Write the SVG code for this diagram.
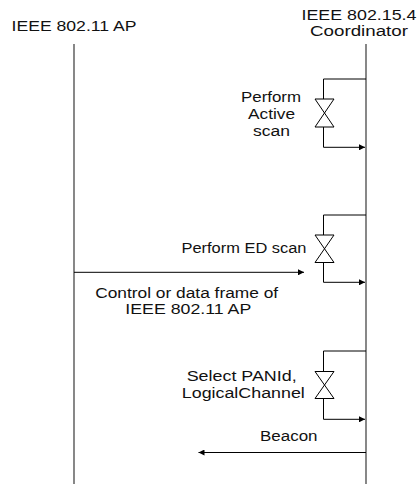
<svg xmlns="http://www.w3.org/2000/svg" width="417" height="484" viewBox="0 0 417 484">
  <style>
    text { font-family: "Liberation Sans", Arial, sans-serif; font-size: 14px; fill: #111; }
    .life { stroke: #555; stroke-width: 1.4; fill: none; }
    .msg { stroke: #000; stroke-width: 1; fill: none; }
    .valve { stroke: #000; stroke-width: 1; fill: #fff; }
  </style>
  <defs>
    <marker id="arrow" viewBox="0 0 10 10" refX="10" refY="5" markerWidth="8" markerHeight="6" markerUnits="userSpaceOnUse" orient="auto">
      <path d="M0,0 L10,5 L0,10 Z" fill="#000"/>
    </marker>
  </defs>

  <rect width="417" height="484" fill="#fff"/>

  <!-- lifelines -->
  <g id="ap">
    <text x="74" y="31" text-anchor="middle" textLength="125" lengthAdjust="spacingAndGlyphs">IEEE 802.11 AP</text>
    <line class="life" x1="74" y1="44" x2="74" y2="484"/>
  </g>
  <g id="coordinator">
    <text x="359" y="20" text-anchor="middle" textLength="115" lengthAdjust="spacingAndGlyphs">IEEE 802.15.4</text>
    <text x="359" y="36" text-anchor="middle" textLength="98" lengthAdjust="spacingAndGlyphs">Coordinator</text>
    <line class="life" x1="366" y1="44" x2="366" y2="484"/>
  </g>

  <!-- self activities on the coordinator -->
  <g id="active-scan">
    <text x="271" y="102" text-anchor="middle" textLength="60" lengthAdjust="spacingAndGlyphs">Perform</text>
    <text x="271.5" y="118.5" text-anchor="middle" textLength="47" lengthAdjust="spacingAndGlyphs">Active</text>
    <text x="271.5" y="136" text-anchor="middle" textLength="37" lengthAdjust="spacingAndGlyphs">scan</text>
  </g>
  <g id="ed-scan">
    <text x="244" y="253" text-anchor="middle" textLength="125" lengthAdjust="spacingAndGlyphs">Perform ED scan</text>
  </g>
  <g id="select-pan">
    <text x="241.7" y="381" text-anchor="middle" textLength="110" lengthAdjust="spacingAndGlyphs">Select PANId,</text>
    <text x="243.3" y="397.5" text-anchor="middle" textLength="123" lengthAdjust="spacingAndGlyphs">LogicalChannel</text>
  </g>

  <g id="connectors">
    <!-- Perform Active scan loop -->
    <path class="msg" d="M366,79 H323.5 V99 M323.5,127 V147.3 H365" marker-end="url(#arrow)"/>
    <path class="valve" d="M315,99 H334 L315,127 H334 Z"/>
    <!-- Perform ED scan loop -->
    <path class="msg" d="M366,215 H323.5 V235 M323.5,262.5 V282.3 H365" marker-end="url(#arrow)"/>
    <path class="valve" d="M315,235 H334 L315,262.5 H334 Z"/>
    <!-- Select PANId loop -->
    <path class="msg" d="M366,351 H323.5 V371.5 M323.5,398.5 V419.3 H365" marker-end="url(#arrow)"/>
    <path class="valve" d="M315,371.5 H334 L315,398.5 H334 Z"/>
    <!-- AP frame -->
    <line class="msg" x1="74" y1="272.3" x2="304" y2="272.3" marker-end="url(#arrow)"/>
    <!-- Beacon -->
    <line class="msg" x1="366" y1="452.5" x2="198.5" y2="452.5" marker-end="url(#arrow)"/>
  </g>

  <g id="labels">
    <text x="186.7" y="297.5" text-anchor="middle" textLength="183" lengthAdjust="spacingAndGlyphs">Control or data frame of</text>
    <text x="188.3" y="313.5" text-anchor="middle" textLength="126" lengthAdjust="spacingAndGlyphs">IEEE 802.11 AP</text>
    <text x="288.8" y="441" text-anchor="middle" textLength="57.5" lengthAdjust="spacingAndGlyphs">Beacon</text>
  </g>
</svg>
